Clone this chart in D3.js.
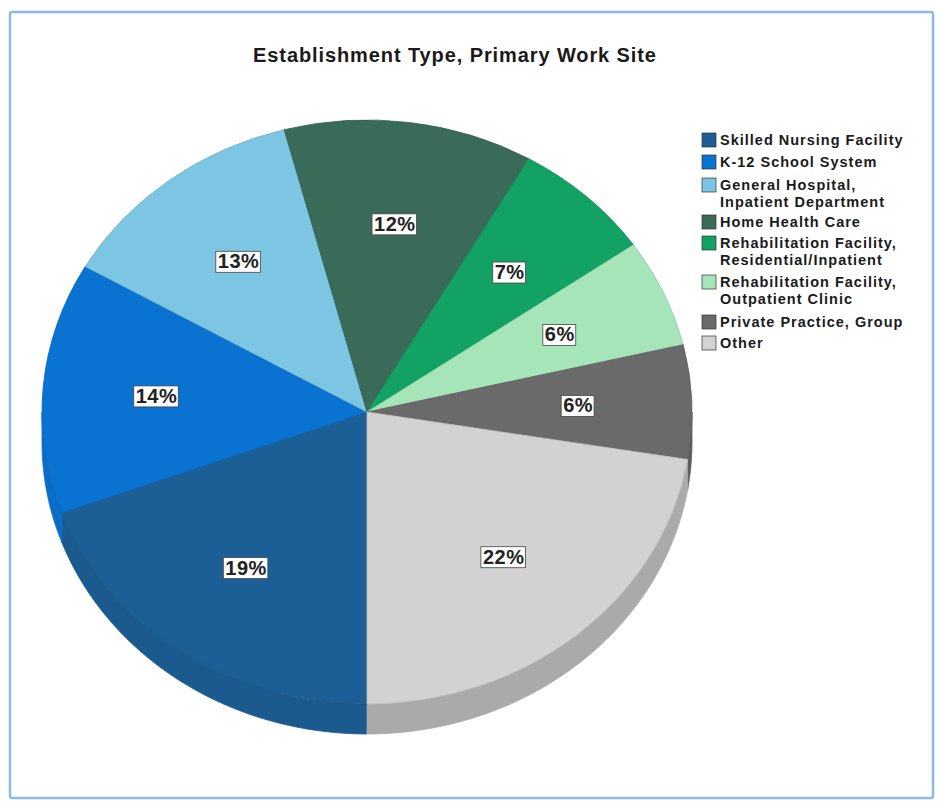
<!DOCTYPE html>
<html>
<head>
<meta charset="utf-8">
<script src="https://cdn.jsdelivr.net/npm/d3@7"></script>
<style>
  html, body { margin: 0; padding: 0; background: #ffffff; }
  svg { display: block; }
</style>
</head>
<body>
<svg id="chart" width="938" height="801"></svg>
<script>
// Establishment type of primary work site (share of respondents, %)
const categories = [
  "Skilled Nursing Facility",
  "K-12 School System",
  "General Hospital, Inpatient Department",
  "Home Health Care",
  "Rehabilitation Facility, Residential/Inpatient",
  "Rehabilitation Facility, Outpatient Clinic",
  "Private Practice, Group",
  "Other"
];
const values = [19.4, 13.9, 12.6, 12.4, 7.0, 6.0, 6.3, 22.4];
const legendLines = [
  ["Skilled Nursing Facility"],
  ["K-12 School System"],
  ["General Hospital,", "Inpatient Department"],
  ["Home Health Care"],
  ["Rehabilitation Facility,", "Residential/Inpatient"],
  ["Rehabilitation Facility,", "Outpatient Clinic"],
  ["Private Practice, Group"],
  ["Other"]
];
const colors = ["#1c5f96", "#0a72d1", "#7cc5e3", "#3a6b58", "#12a263", "#a6e5ba", "#6a6a6a", "#d2d2d2"];
const sideShade = [0.15, 0.15, 0.4, 0.4, 0.4, 0.4, 0.45, 0.6];
const title = "Establishment Type, Primary Work Site";

const svg = d3.select("#chart");
const font = "'Liberation Sans', Arial, Helvetica, sans-serif";

// outer frame
svg.append("rect")
  .attr("x", 10).attr("y", 12).attr("width", 923).attr("height", 786)
  .attr("rx", 2)
  .attr("fill", "#ffffff").attr("stroke", "#8cbbe0").attr("stroke-width", 2.5);

svg.append("text")
  .attr("x", 455).attr("y", 62)
  .attr("text-anchor", "middle")
  .attr("font-family", font).attr("font-weight", "bold").attr("font-size", 20)
  .attr("letter-spacing", 0.9)
  .attr("fill", "#1a1a1a")
  .text(title);

// pie geometry
const cx = 367, cy = 412, rx = 325, ry = 292, depth = 30;
const yScale = ry / rx;

const pie = d3.pie().sort(null).startAngle(Math.PI).endAngle(3 * Math.PI);
const arcs = pie(values);

const arc = d3.arc().innerRadius(0).outerRadius(rx);
const labelArc = d3.arc().innerRadius(rx * 0.65).outerRadius(rx * 0.65);

const g = svg.append("g").attr("transform", `translate(${cx},${cy})`);

// side wall of the tilted pie (front half only)
const frontRanges = [[Math.PI, 1.5 * Math.PI], [2.5 * Math.PI, 3 * Math.PI]];
function sidePath(a0, a1) {
  const n = 60, pts = [];
  for (let i = 0; i <= n; i++) {
    const a = a0 + (a1 - a0) * i / n;
    pts.push([rx * Math.sin(a), -ry * Math.cos(a)]);
  }
  for (let i = n; i >= 0; i--) {
    const a = a0 + (a1 - a0) * i / n;
    pts.push([rx * Math.sin(a), -ry * Math.cos(a) + depth]);
  }
  return d3.line()(pts) + "Z";
}
const sides = g.append("g");
arcs.forEach((d, i) => {
  frontRanges.forEach(([r0, r1]) => {
    const a0 = Math.max(d.startAngle, r0), a1 = Math.min(d.endAngle, r1);
    if (a1 > a0) {
      const c = d3.color(colors[i]).darker(sideShade[i]);
      sides.append("path")
        .attr("d", sidePath(a0, a1))
        .attr("fill", c)
        .attr("stroke", c).attr("stroke-width", 0.8);
    }
  });
});

// top surface
g.append("g").attr("transform", `scale(1,${yScale})`)
  .selectAll("path")
  .data(arcs)
  .join("path")
  .attr("d", arc)
  .attr("fill", (d, i) => colors[i])
  .attr("stroke", (d, i) => d3.color(colors[i]).darker(0.3))
  .attr("stroke-width", 0.8)
  .attr("vector-effect", "non-scaling-stroke");

// percentage labels
const labels = g.append("g");
arcs.forEach((d, i) => {
  const [lx, ly0] = labelArc.centroid(d);
  const ly = ly0 * yScale;
  const txt = Math.round(d.data) + "%";
  const t = labels.append("text")
    .attr("x", lx).attr("y", ly)
    .attr("text-anchor", "middle").attr("dominant-baseline", "central")
    .attr("font-family", font).attr("font-weight", "bold").attr("font-size", 20)
    .attr("letter-spacing", 0.5)
    .attr("fill", "#222222")
    .text(txt);
  const bb = t.node().getBBox();
  labels.insert("rect", "text")
    .attr("x", bb.x - 2).attr("y", bb.y + 1)
    .attr("width", bb.width + 3).attr("height", bb.height - 1)
    .attr("fill", "#ffffff").attr("stroke", "#444444").attr("stroke-width", 0.8);
});

// legend
const legend = svg.append("g").attr("transform", "translate(702,0)");
const rowY = [140, 162, 185, 222, 243, 282, 322, 343];
legendLines.forEach((lines, i) => {
  legend.append("rect")
    .attr("x", 0).attr("y", rowY[i] - 7).attr("width", 14).attr("height", 14)
    .attr("fill", colors[i]).attr("stroke", "#333333").attr("stroke-width", 0.7);
  lines.forEach((ln, j) => {
    legend.append("text")
      .attr("x", 18).attr("y", rowY[i] + j * 17)
      .attr("dominant-baseline", "central")
      .attr("font-family", font).attr("font-weight", "bold").attr("font-size", 14.5)
      .attr("letter-spacing", 1.0)
      .attr("fill", "#1a1a1a")
      .text(ln);
  });
});
</script>
</body>
</html>
